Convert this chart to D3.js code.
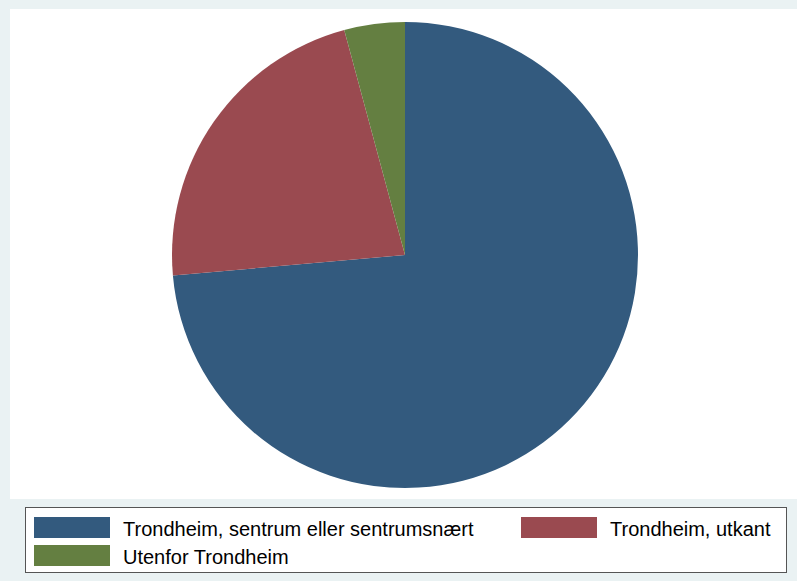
<!DOCTYPE html>
<html><head><meta charset="utf-8">
<script src="https://cdn.jsdelivr.net/npm/d3@7"></script>
<style>body{margin:0;background:#EAF2F3;} svg{display:block;}</style>
</head><body>
<script>
const categories = ["Trondheim, sentrum eller sentrumsnært", "Trondheim, utkant", "Utenfor Trondheim"];
const values = [73.6, 22.2, 4.2];
const colors = ["#335A7E", "#9A4A50", "#647F41"];

const W = 797, H = 581;
const svg = d3.select("body").append("svg").attr("width", W).attr("height", H);
svg.append("rect").attr("width", W).attr("height", H).attr("fill", "#EAF2F3");
svg.append("rect").attr("x", 10).attr("y", 9).attr("width", W - 10).attr("height", 490).attr("fill", "#ffffff");

const cx = 405, cy = 255, r = 233;
const pie = d3.pie().sort(null).value(d => d)(values);
const arc = d3.arc().innerRadius(0).outerRadius(r);
svg.append("g").attr("transform", `translate(${cx},${cy})`)
  .selectAll("path").data(pie).join("path")
  .attr("d", arc).attr("fill", (d, i) => colors[i]);

// legend
svg.append("rect").attr("x", 25.5).attr("y", 507.5).attr("width", 761).attr("height", 65)
  .attr("fill", "#fff").attr("stroke", "#555").attr("stroke-width", 1);
const pos = [[34, 517], [521, 517], [34, 545]];
const lg = svg.append("g");
categories.forEach((c, i) => {
  lg.append("rect").attr("x", pos[i][0]).attr("y", pos[i][1]).attr("width", 76).attr("height", 21).attr("fill", colors[i]);
  lg.append("text").attr("x", pos[i][0] + 89).attr("y", pos[i][1] + 18.5)
    .attr("font-family", "Liberation Sans, Arial, sans-serif").attr("font-size", 20)
    .attr("fill", "#000").text(c);
});
</script>
</body></html>
